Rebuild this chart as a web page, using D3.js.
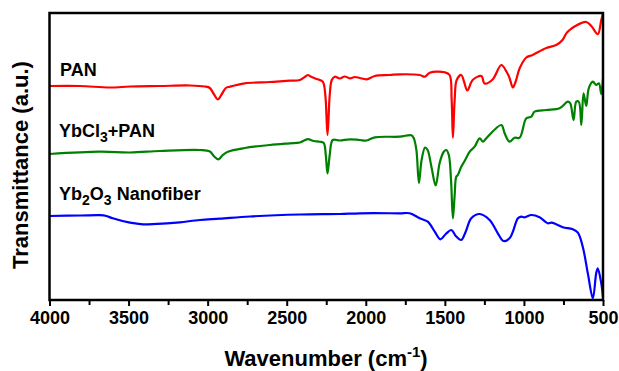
<!DOCTYPE html>
<html>
<head>
<meta charset="utf-8">
<script src="https://cdn.jsdelivr.net/npm/d3@7"></script>
<style>
  html, body { margin: 0; padding: 0; background: #fff; }
  svg text { font-family: Arial, "Liberation Sans", sans-serif; font-weight: bold; }
</style>
</head>
<body>
<div id="diagram"></div>
<script>
// FTIR spectra: [wavenumber (cm-1), transmittance (a.u.)]
const pan = [
  [4000, 214], [3807, 214], [3618, 212.5], [3491, 213.5], [3302, 214], [3112, 214.5],
  [3018, 213.5], [2986, 212], [2961, 206], [2935, 200.7], [2910, 206], [2885, 212],
  [2860, 213.3], [2765, 216.7], [2607, 218], [2481, 219.3], [2417, 220], [2386, 223],
  [2367, 225], [2342, 223], [2304, 220.7], [2272, 218.3], [2256, 205], [2242, 165],
  [2228, 205], [2215, 220], [2196, 223.3], [2165, 221.5], [2133, 223.5], [2101, 221.7],
  [2070, 223], [2038, 222], [1994, 220.7], [1943, 224], [1848, 225], [1785, 225.7],
  [1659, 225], [1627, 223.3], [1596, 227.3], [1501, 227.7], [1470, 225], [1457, 200],
  [1449, 162.3], [1438, 200], [1425, 220], [1396, 225], [1378, 218], [1358, 209.5],
  [1324, 220], [1269, 224], [1249, 216.5], [1198, 220.5], [1143, 235], [1109, 228],
  [1091, 222], [1070, 212.5], [1053, 218], [1027, 231.7], [985, 242.5], [945, 245],
  [859, 252], [796, 255], [756, 260], [732, 266.7], [711, 270], [680, 273.5],
  [606, 278], [574, 274], [533, 265.8], [511, 280], [500, 286.5]
];
const ybcl3Pan = [
  [4000, 146], [3681, 148.3], [3491, 147.5], [3302, 149], [3049, 150], [2986, 148.5],
  [2961, 144], [2932, 140.7], [2904, 145], [2872, 148.3], [2765, 152], [2607, 155],
  [2481, 156.7], [2417, 157.5], [2367, 160.8], [2329, 159], [2291, 158.3], [2266, 157],
  [2253, 145], [2242, 126.5], [2228, 145], [2209, 160], [2165, 159.5], [2101, 160.7],
  [2038, 160], [1994, 159.5], [1943, 162.7], [1785, 163.3], [1712, 164.7], [1697, 162],
  [1680, 150], [1664, 117], [1647, 140], [1625, 152.5], [1609, 150], [1585, 133.3],
  [1558, 114.5], [1533, 137], [1508, 148], [1491, 150], [1475, 145], [1461, 120],
  [1449, 81.5], [1438, 105], [1428, 123.3], [1418, 125], [1396, 133.3], [1375, 139],
  [1343, 148.3], [1312, 153.3], [1280, 161.7], [1259, 158.3], [1238, 161.7], [1143, 175],
  [1122, 166.7], [1091, 158.3], [1059, 162.3], [1027, 162.3], [985, 181.7], [953, 183.3],
  [933, 188.3], [859, 190], [775, 191.7], [722, 198.3], [707, 196.7], [686, 180],
  [669, 198.3], [653, 198.3], [637, 175], [623, 206.7], [606, 194], [590, 211.7],
  [564, 218.3], [543, 215], [526, 216.7], [511, 206], [500, 221.5]
];
const yb2o3 = [
  [4000, 84], [3800, 84.5], [3681, 84.8], [3640, 84], [3600, 81.7], [3491, 77.3], [3409, 75.7],
  [3258, 76.7], [3176, 77.7], [3049, 80], [2923, 81.3], [2733, 83.5], [2417, 85.5],
  [2165, 86], [2038, 86.7], [1785, 86.7], [1722, 86.7], [1659, 81.7], [1608, 78.3],
  [1564, 68.3], [1528, 60.7], [1494, 66], [1459, 70], [1431, 64], [1396, 60],
  [1369, 68], [1333, 81.7], [1280, 86], [1217, 80], [1165, 66.7], [1129, 59],
  [1091, 61.7], [1070, 68.3], [1038, 81.7], [1017, 83.3], [996, 82.7], [953, 85],
  [901, 82.7], [849, 76.7], [827, 77.3], [796, 75.7], [754, 72.7], [691, 70.7],
  [659, 67.3], [628, 53.3], [596, 26.7], [564, 1.7], [543, 26.7], [533, 31.7],
  [511, 16.7], [500, 3]
];
const seriesColors = ['#ff0000', '#008000', '#0000ff'];
const xTicks = [4000, 3500, 3000, 2500, 2000, 1500, 1000, 500];
const xMinorTicks = [3750, 3250, 2750, 2250, 1750, 1250, 750];

!(function () {
  'use strict'
  let
    canvas = {
      width: 619,
      height: 371,
      padding: { top: 13, right: 16, bottom: 71, left: 49.5 }
    },
    svg, xScale, yScale, line, plotBottom, plotRight, lab;

  plotBottom = canvas.height - canvas.padding.bottom;
  plotRight = canvas.width - canvas.padding.right;

  svg = d3.select('#diagram')
    .append('svg')
    .attr('width', canvas.width)
    .attr('height', canvas.height);

  xScale = d3.scaleLinear()
    .domain([4000, 500])
    .range([canvas.padding.left, plotRight]);

  yScale = d3.scaleLinear()
    .domain([0, 287])
    .range([plotBottom, canvas.padding.top]);

  line = d3.line()
    .x(function (d) { return xScale(d[0]); })
    .y(function (d) { return yScale(d[1]); })
    .curve(d3.curveCatmullRom.alpha(0.5));

  // spectra
  [pan, ybcl3Pan, yb2o3].forEach(function (data, i) {
    svg.append('path')
      .datum(data)
      .attr('fill', 'none')
      .attr('stroke', seriesColors[i])
      .attr('stroke-width', 2.2)
      .attr('stroke-linejoin', 'round')
      .attr('d', line);
  });

  // bottom axis: minor ticks, then major ticks with labels
  svg.append('g')
    .attr('transform', 'translate(0,' + plotBottom + ')')
    .call(d3.axisBottom(xScale).tickValues(xMinorTicks).tickSize(5).tickFormat(''))
    .call(function (g) {
      g.select('.domain').remove();
      g.selectAll('line').attr('stroke', '#000').attr('stroke-width', 2);
    });

  svg.append('g')
    .attr('transform', 'translate(0,' + plotBottom + ')')
    .call(d3.axisBottom(xScale).tickValues(xTicks).tickSize(6).tickPadding(5).tickFormat(d3.format('d')))
    .call(function (g) {
      g.select('.domain').remove();
      g.selectAll('line').attr('stroke', '#000').attr('stroke-width', 2);
      g.selectAll('text')
        .attr('fill', '#000')
        .style('font-size', '18px');
    });

  // frame
  svg.append('rect')
    .attr('x', canvas.padding.left)
    .attr('y', canvas.padding.top)
    .attr('width', plotRight - canvas.padding.left)
    .attr('height', plotBottom - canvas.padding.top)
    .attr('fill', 'none')
    .attr('stroke', '#000')
    .attr('stroke-width', 2.5);

  // series labels
  svg.append('text')
    .attr('x', 60).attr('y', 76)
    .style('font-size', '18px')
    .text('PAN');

  lab = svg.append('text')
    .attr('x', 59).attr('y', 137)
    .style('font-size', '18px');
  lab.append('tspan').text('YbCl');
  lab.append('tspan').attr('dy', 5).style('font-size', '14px').text('3');
  lab.append('tspan').attr('dy', -5).text('+PAN');

  lab = svg.append('text')
    .attr('x', 59).attr('y', 200)
    .style('font-size', '18px');
  lab.append('tspan').text('Yb');
  lab.append('tspan').attr('dy', 5).style('font-size', '14px').text('2');
  lab.append('tspan').attr('dy', -5).text('O');
  lab.append('tspan').attr('dy', 5).style('font-size', '14px').text('3');
  lab.append('tspan').attr('dy', -5).text(' Nanofiber');

  // axis titles
  lab = svg.append('text')
    .attr('x', 326).attr('y', 366)
    .attr('text-anchor', 'middle')
    .style('font-size', '22px');
  lab.append('tspan').text('Wavenumber (cm');
  lab.append('tspan').attr('dy', -9).style('font-size', '15px').text('-1');
  lab.append('tspan').attr('dy', 9).text(')');

  svg.append('text')
    .attr('transform', 'translate(28,165) rotate(-90)')
    .attr('text-anchor', 'middle')
    .style('font-size', '22px')
    .text('Transmittance (a.u.)');
}())
</script>
</body>
</html>
